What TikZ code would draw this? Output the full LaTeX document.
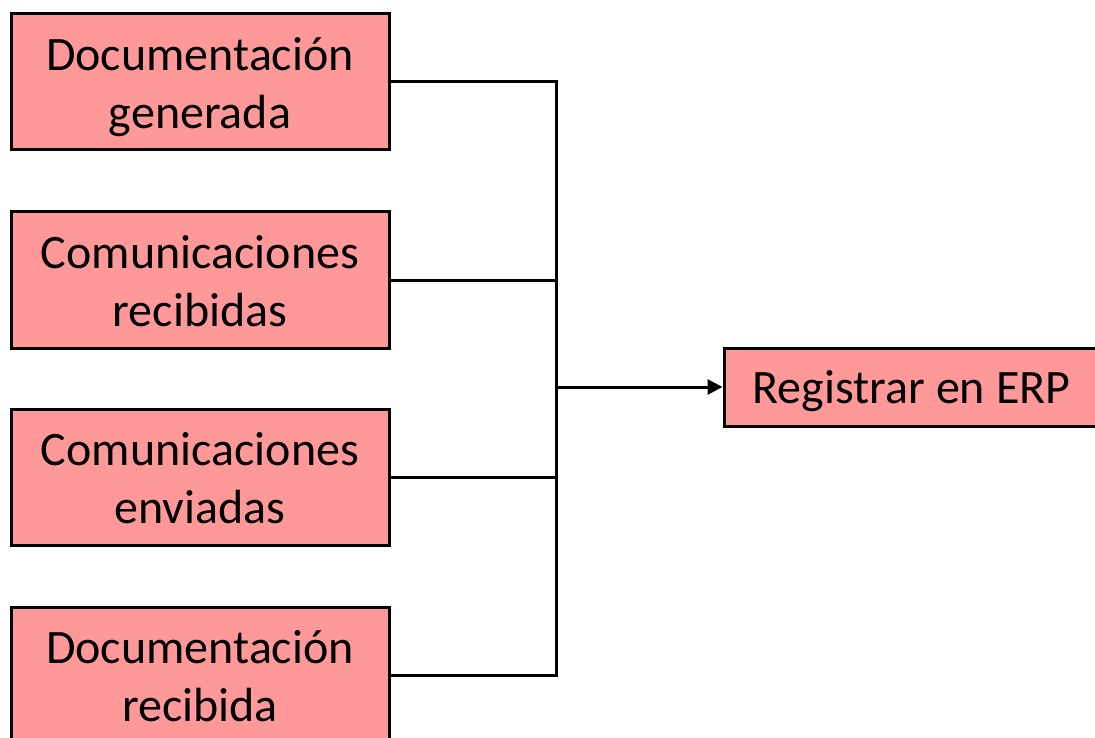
\documentclass[tikz,border=0pt]{standalone}
\usepackage{fontspec}
\setmainfont{Carlito}
\usetikzlibrary{arrows.meta}
\definecolor{boxpink}{HTML}{FF9999}
\newcommand{\twolines}[2]{\raisebox{-6pt}[\height][\depth]{\begin{tabular}{@{}c@{}}#1\\#2\end{tabular}}}
\tikzset{
  srcbox/.style={draw=black, line width=3pt, fill=boxpink, minimum width=378pt, minimum height=136pt, inner sep=0pt, align=center, font=\fontsize{48}{58}\selectfont},
  erpbox/.style={draw=black, line width=3pt, fill=boxpink, minimum width=375pt, minimum height=78pt, inner sep=0pt, align=center, font=\fontsize{48}{58}\selectfont},
  conn/.style={line width=3pt},
}
\begin{document}
\begin{tikzpicture}[x=1pt,y=-1pt]
\useasboundingbox (0,0) rectangle (1095,738);
\begin{scope}
\clip (0,0) rectangle (1095,738);
\node[srcbox] (b1) at (200,82) {\twolines{Documentación}{generada}};
\node[srcbox] (b2) at (200,280) {\twolines{Comunicaciones}{recibidas}};
\node[srcbox] (b3) at (200,477) {\twolines{Comunicaciones}{enviadas}};
\node[srcbox] (b4) at (200,675) {\twolines{Documentación}{recibida}};
\node[erpbox] (erp) at (911.5,387) {\raisebox{-4pt}[\height][\depth]{Registrar en ERP}};
\coordinate (top) at (556,82);
\coordinate (bot) at (556,675);
\coordinate (mid) at (556,387);
\draw[conn] (b1.east) -- (top) -- (bot) -- (b4.east);
\draw[conn] (b2.east) -- (b2.east -| top);
\draw[conn] (b3.east) -- (b3.east -| top);
\draw[conn, -{Triangle[length=15pt,width=15pt]}] (mid) -- (erp.west);
\end{scope}
\end{tikzpicture}
\end{document}
